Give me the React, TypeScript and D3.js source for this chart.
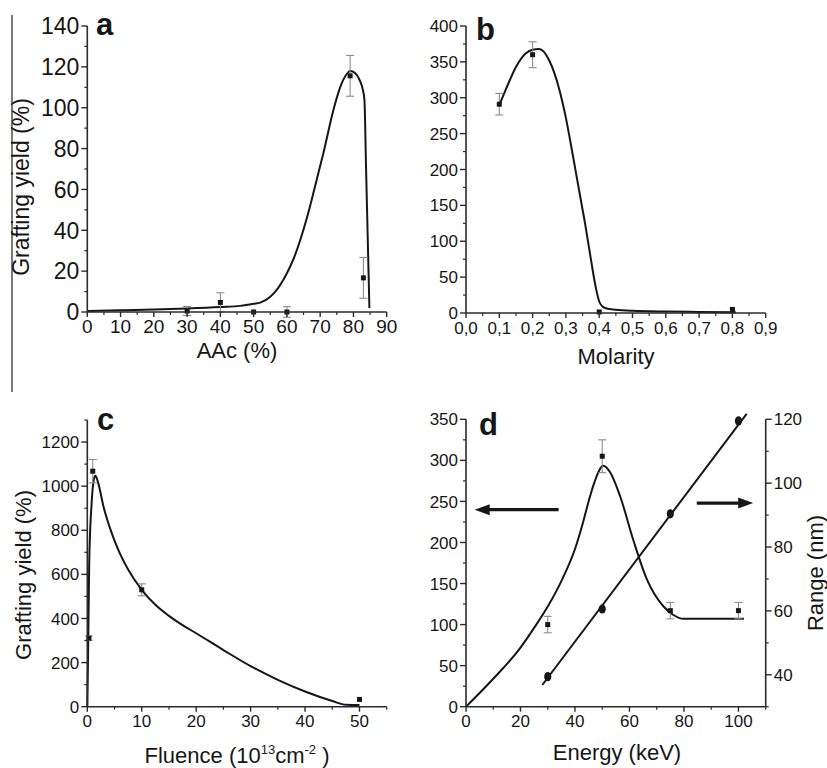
import React from 'react';
import * as d3 from 'd3';

const FONT = '"Liberation Sans", Arial, Helvetica, sans-serif';
const INK = '#161616';
const AXIS = '#2b2b2b';
const ERR = '#8c8c8c';

// (a) grafting yield vs AAc content
const aacLevels = [30, 40, 50, 60, 79, 83];
const aacYield = [0.5, 4.7, 0, 0, 115.6, 16.7];
const aacError = [2.2, 4.7, 0, 2.6, 10, 10];
const aacFitX = [0, 10, 20, 30, 40, 46, 50, 52, 55, 57, 60, 62, 66, 69, 71, 74, 76, 78, 79, 80, 81, 82, 82.8, 83.3, 83.8, 84.3, 84.8];
const aacFitY = [0.5, 0.8, 1.2, 1.7, 2.4, 3, 4, 4.6, 7.5, 11, 19, 26, 46, 65, 78, 99, 110, 116.5, 118, 117.5, 116, 113, 109, 104, 70, 36, 2];
const aacTicksX = [0, 10, 20, 30, 40, 50, 60, 70, 80, 90];
const aacTicksY = [0, 20, 40, 60, 80, 100, 120, 140];

// (b) grafting yield vs molarity
const molarity = [0.1, 0.2, 0.4, 0.8];
const molYield = [291, 360, 1.5, 5];
const molError = [15, 18, 0, 0];
const molFitX = [0.1, 0.12, 0.15, 0.18, 0.2, 0.22, 0.25, 0.28, 0.3, 0.32, 0.34, 0.36, 0.375, 0.39, 0.4, 0.41, 0.42, 0.45, 0.5, 0.6, 0.7, 0.81];
const molFitY = [290, 312, 343, 362, 367, 368, 352, 312, 272, 222, 170, 118, 75, 35, 16, 9, 6.5, 4.5, 3, 2, 1.5, 1];
const molTicksX = [0, 0.1, 0.2, 0.3, 0.4, 0.5, 0.6, 0.7, 0.8, 0.9];
const molTicksY = [0, 50, 100, 150, 200, 250, 300, 350, 400];

// (c) grafting yield vs fluence
const fluence = [0.3, 1, 10, 50];
const fluYield = [311, 1068, 530, 33];
const fluError = [10, 53, 27, 0];
const fluFitX = [0, 0.15, 0.35, 0.8, 1.2, 1.5, 2, 3, 4, 5, 6, 7.5, 10, 12.5, 15, 17.5, 20, 25, 30, 35, 40, 45, 47.5, 50];
const fluFitY = [0, 250, 650, 925, 1030, 1047, 1015, 905, 822, 753, 694, 622, 530, 462, 412, 370, 333, 257, 184, 122, 69, 26, 9, 8];
const fluTicksX = [0, 10, 20, 30, 40, 50];
const fluTicksY = [0, 200, 400, 600, 800, 1000, 1200];

// (d) grafting yield and ion range vs energy
const energy = [30, 50, 75, 100];
const energyYield = [100, 305, 117, 117];
const energyError = [10, 20, 10, 10];
const ionRange = [39.4, 60.6, 90.4, 119.5];
const energyFitX = [0, 10, 20, 25, 30, 35, 40, 43, 45, 47, 50.4, 53, 56.6, 61.4, 66.4, 72.5, 76, 79.8, 102];
const energyFitY = [0, 34, 72, 96, 122, 153, 192, 225, 250, 272, 293.5, 285, 256, 203, 155, 122, 112, 107, 107];
const rangeFitX = [28, 103];
const rangeFitY = [36.8, 121.7];
const energyTicksX = [0, 20, 40, 60, 80, 100];
const energyTicksY = [0, 50, 100, 150, 200, 250, 300, 350];
const rangeTicks = [40, 60, 80, 100, 120];

type Lin = d3.ScaleLinear<number, number>;

const mids = (t: number[]) => d3.pairs(t).map(([a, b]) => (a + b) / 2);

function XAxis({ s, y, major, minor, fmt, size, labelY }: { s: Lin; y: number; major: number[]; minor: number[]; fmt: (v: number) => string; size: number; labelY: number }) {
  const [a, b] = s.range();
  return (
    <g>
      <line x1={a} x2={b} y1={y} y2={y} stroke={AXIS} strokeWidth={1.6} />
      {minor.map((t) => <line key={'m' + t} x1={s(t)} x2={s(t)} y1={y} y2={y + 3} stroke={AXIS} strokeWidth={1.2} />)}
      {major.map((t) => <line key={'M' + t} x1={s(t)} x2={s(t)} y1={y} y2={y + 5} stroke={AXIS} strokeWidth={1.4} />)}
      {major.map((t) => (
        <text key={'t' + t} x={s(t)} y={labelY} textAnchor="middle" fontSize={size}>{fmt(t)}</text>
      ))}
    </g>
  );
}

function YAxis({ s, x, major, minor, size, side = 'left' }: { s: Lin; x: number; major: number[]; minor: number[]; size: number; side?: 'left' | 'right' }) {
  const [a, b] = s.range();
  const dir = side === 'left' ? -1 : 1;
  return (
    <g>
      <line x1={x} x2={x} y1={a} y2={b} stroke={AXIS} strokeWidth={1.6} />
      {minor.map((t) => <line key={'m' + t} x1={x} x2={x + dir * 3} y1={s(t)} y2={s(t)} stroke={AXIS} strokeWidth={1.2} />)}
      {major.map((t) => <line key={'M' + t} x1={x} x2={x + dir * 6} y1={s(t)} y2={s(t)} stroke={AXIS} strokeWidth={1.4} />)}
      {major.map((t) => (
        <text key={'t' + t} x={x + dir * 8} y={s(t)} dy="0.36em" textAnchor={side === 'left' ? 'end' : 'start'} fontSize={size}>{t}</text>
      ))}
    </g>
  );
}

function Points({ xs, ys, err, sx, sy }: { xs: number[]; ys: number[]; err: number[]; sx: Lin; sy: Lin }) {
  return (
    <g>
      {xs.map((v, i) => {
        const cx = sx(v);
        const e = err[i];
        return (
          <g key={i}>
            {e > 0 && (
              <g stroke={ERR} strokeWidth={1.1}>
                <line x1={cx} x2={cx} y1={sy(ys[i] - e)} y2={sy(ys[i] + e)} />
                <line x1={cx - 4} x2={cx + 4} y1={sy(ys[i] + e)} y2={sy(ys[i] + e)} />
                <line x1={cx - 4} x2={cx + 4} y1={sy(ys[i] - e)} y2={sy(ys[i] - e)} />
              </g>
            )}
            <rect x={cx - 2.5} y={sy(ys[i]) - 2.5} width={5} height={5} fill={INK} />
          </g>
        );
      })}
    </g>
  );
}

function Fit({ xs, ys, sx, sy }: { xs: number[]; ys: number[]; sx: Lin; sy: Lin }) {
  const gen = d3
    .line<number>()
    .x((v) => sx(v))
    .y((_, i) => sy(ys[i]))
    .curve(d3.curveMonotoneX);
  return <path d={gen(xs) || ''} fill="none" stroke={INK} strokeWidth={2} />;
}

function Arrow({ x1, x2, y }: { x1: number; x2: number; y: number }) {
  const d = Math.sign(x2 - x1);
  return (
    <g>
      <line x1={x1} x2={x2 - d * 10} y1={y} y2={y} stroke={INK} strokeWidth={3.2} />
      <path d={`M${x2},${y} L${x2 - d * 15},${y - 5.5} L${x2 - d * 15},${y + 5.5} Z`} fill={INK} />
    </g>
  );
}

const comma = (v: number) => d3.format('.1f')(v).replace('.', ',');

export default function App() {
  // panel a
  const ax = d3.scaleLinear().domain([0, 90]).range([87.3, 386.7]);
  const ay = d3.scaleLinear().domain([0, 140]).range([312, 26]);
  // panel b
  const bx = d3.scaleLinear().domain([0, 0.9]).range([466, 765.7]);
  const by = d3.scaleLinear().domain([0, 400]).range([313, 26]);
  // panel c
  const cx = d3.scaleLinear().domain([0, 55]).range([87.3, 386.7]);
  const cy = d3.scaleLinear().domain([0, 1300]).range([706.7, 420]);
  // panel d
  const dx = d3.scaleLinear().domain([0, 110]).range([466, 765.7]);
  const dy = d3.scaleLinear().domain([0, 350]).range([706.7, 419.3]);
  const dr = d3.scaleLinear().domain([30, 120]).range([706.7, 419.3]);

  const rangeLine = d3
    .line<number>()
    .x((v) => dx(v))
    .y((_, i) => dr(rangeFitY[i]));

  return (
    <svg width={827} height={768} style={{ position: 'absolute', left: 0, top: 0, background: '#fff' }} fontFamily={FONT} fill={INK}>
      <line x1={12} x2={12} y1={15} y2={392} stroke="#333" strokeWidth={1.3} />

      {/* a */}
      <Fit xs={aacFitX} ys={aacFitY} sx={ax} sy={ay} />
      <Points xs={aacLevels} ys={aacYield} err={aacError} sx={ax} sy={ay} />
      <XAxis s={ax} y={312} major={aacTicksX} minor={mids(aacTicksX)} fmt={String} size={19} labelY={333} />
      <YAxis s={ay} x={87.3} major={aacTicksY} minor={mids(aacTicksY)} size={23} />
      <text x={237} y={358} textAnchor="middle" fontSize={22}>AAc (%)</text>
      <text transform="translate(29,187) rotate(-90)" textAnchor="middle" fontSize={23}>Grafting yield (%)</text>
      <text x={96} y={35} fontSize={31} fontWeight="bold">a</text>

      {/* b */}
      <Fit xs={molFitX} ys={molFitY} sx={bx} sy={by} />
      <Points xs={molarity} ys={molYield} err={molError} sx={bx} sy={by} />
      <XAxis s={bx} y={313} major={molTicksX} minor={mids(molTicksX)} fmt={comma} size={17} labelY={334} />
      <YAxis s={by} x={466} major={molTicksY} minor={mids(molTicksY)} size={17} />
      <text x={616} y={364} textAnchor="middle" fontSize={22}>Molarity</text>
      <text x={476} y={40} fontSize={31} fontWeight="bold">b</text>

      {/* c */}
      <Fit xs={fluFitX} ys={fluFitY} sx={cx} sy={cy} />
      <Points xs={fluence} ys={fluYield} err={fluError} sx={cx} sy={cy} />
      <XAxis s={cx} y={706.7} major={fluTicksX} minor={[...mids(fluTicksX), 55]} fmt={String} size={17} labelY={727} />
      <YAxis s={cy} x={87.3} major={fluTicksY} minor={[...mids(fluTicksY), 1300]} size={17} />
      <text x={237} y={763} textAnchor="middle" fontSize={22}>
        Fluence (10<tspan fontSize={13} dy={-9}>13</tspan>
        <tspan dy={9}>cm</tspan>
        <tspan fontSize={13} dy={-9}>-2</tspan>
        <tspan dy={9}> )</tspan>
      </text>
      <text transform="translate(31,575) rotate(-90)" textAnchor="middle" fontSize={22}>Grafting yield (%)</text>
      <text x={97} y={430} fontSize={31} fontWeight="bold">c</text>

      {/* d */}
      <Fit xs={energyFitX} ys={energyFitY} sx={dx} sy={dy} />
      <path d={rangeLine(rangeFitX) || ''} fill="none" stroke={INK} strokeWidth={2} />
      <Points xs={energy} ys={energyYield} err={energyError} sx={dx} sy={dy} />
      {energy.map((v, i) => (
        <ellipse key={i} cx={dx(v)} cy={dr(ionRange[i])} rx={3.6} ry={4.6} fill={INK} />
      ))}
      <Arrow x1={dx(34)} x2={dx(3.2)} y={dy(240)} />
      <Arrow x1={dx(84.7)} x2={dx(105.4)} y={dy(248)} />
      <XAxis s={dx} y={706.7} major={energyTicksX} minor={[...mids(energyTicksX), 110]} fmt={String} size={17} labelY={727} />
      <YAxis s={dy} x={466} major={energyTicksY} minor={mids(energyTicksY)} size={17} />
      <YAxis s={dr} x={765.7} major={rangeTicks} minor={[30, ...mids(rangeTicks)]} size={17} side="right" />
      <text x={617} y={760} textAnchor="middle" fontSize={22}>Energy (keV)</text>
      <text transform="translate(823,573) rotate(-90)" textAnchor="middle" fontSize={22}>Range (nm)</text>
      <text x={479} y={435} fontSize={31} fontWeight="bold">d</text>
    </svg>
  );
}
